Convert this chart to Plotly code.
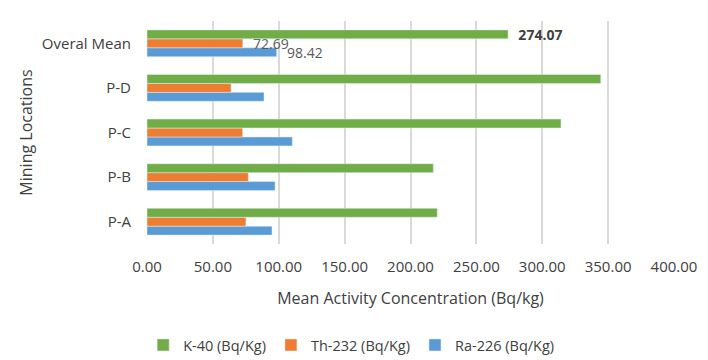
import plotly.graph_objects as go

categories = ["P-A", "P-B", "P-C", "P-D", "Overal Mean"]
k40 = [220.3, 217.3, 314.2, 344.4, 274.07]
th232 = [75.1, 76.9, 72.6, 63.8, 72.69]
ra226 = [94.9, 97.2, 110.3, 88.8, 98.42]
x_ticks = [0, 50, 100, 150, 200, 250, 300, 350, 400]
x_tick_labels = ["%.2f" % v for v in x_ticks]

def labels(vals):
    return ["" if c != "Overal Mean" else "\u00a0\u00a0%.2f" % v for c, v in zip(categories, vals)]

FONT = "Open Sans"
GREY = "#595959"
DARK = "#404040"

fig = go.Figure()
fig.add_trace(go.Bar(
    y=categories, x=ra226, orientation="h", name="Ra-226 (Bq/Kg)",
    marker=dict(color="#5B9BD5"), text=labels(ra226), textposition="outside",
    constraintext="none", cliponaxis=False,
    textfont=dict(family=FONT, size=14, color=GREY), legendrank=3,
))
fig.add_trace(go.Bar(
    y=categories, x=th232, orientation="h", name="Th-232 (Bq/Kg)",
    marker=dict(color="#ED7D31"), text=labels(th232), textposition="outside",
    constraintext="none", cliponaxis=False,
    textfont=dict(family=FONT, size=14, color=GREY), legendrank=2,
))
fig.add_trace(go.Bar(
    y=categories, x=k40, orientation="h", name="K-40 (Bq/Kg)",
    marker=dict(color="#70AD47"), text=labels(k40), textposition="outside",
    constraintext="none", cliponaxis=False,
    textfont=dict(family=FONT, size=14, color=DARK, weight="bold"), legendrank=1,
))

fig.update_layout(
    width=708, height=360,
    margin=dict(l=147, r=34, t=21, b=116),
    paper_bgcolor="white", plot_bgcolor="white",
    barmode="group", bargap=0.4, bargroupgap=0,
    font=dict(family=FONT, color=DARK),
    showlegend=True,
    legend=dict(orientation="h", xref="container", yref="container",
                x=0.496, xanchor="center", y=1 - 345 / 360, yanchor="middle",
                font=dict(family=FONT, size=14.5, color=DARK), traceorder="normal"),
    xaxis=dict(range=[0, 400], tickvals=x_ticks, ticktext=x_tick_labels,
               showgrid=True, gridcolor="#D9D9D9", gridwidth=1.5, zeroline=False,
               showline=False, tickfont=dict(family=FONT, size=15, color=DARK),
               ticks="outside", ticklen=9, tickcolor="rgba(0,0,0,0)",
               automargin=False,
               title=dict(text="Mean Activity Concentration (Bq/kg)",
                          font=dict(family=FONT, size=16, color=DARK), standoff=17),
               fixedrange=True),
    yaxis=dict(type="category", categoryorder="array", categoryarray=categories,
               showgrid=False, showline=False, zeroline=False,
               tickfont=dict(family=FONT, size=15, color=DARK),
               ticks="outside", ticklen=12, tickcolor="rgba(0,0,0,0)",
               automargin=False,
               title=dict(text="Mining Locations",
                          font=dict(family=FONT, size=16, color=DARK), standoff=5),
               fixedrange=True),
)

fig.write_html("out.html", config={"displayModeBar": False},
               post_script="document.body.style.margin='0';")
